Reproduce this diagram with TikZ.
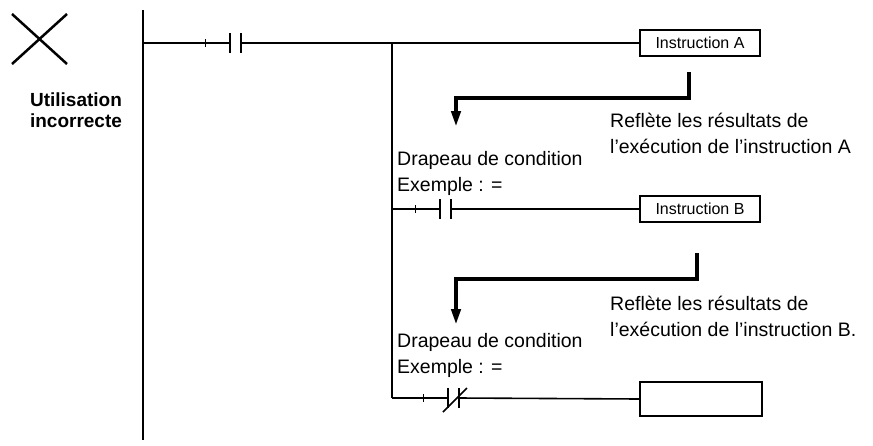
\documentclass[tikz,border=0pt]{standalone}
\usepackage{fontspec}
\defaultfontfeatures{}
\setmainfont{Liberation Sans}[Ligatures=ResetAll]
\usetikzlibrary{arrows.meta}
\newcommand{\ap}{'}
\begin{document}
\begin{tikzpicture}[x=1pt,y=-1pt,
  wire/.style={line width=1.6pt},
  box/.style={draw,line width=1.2pt,minimum width=120pt,minimum height=26pt,inner sep=0pt,font=\fontsize{16}{18}\selectfont},
  lbl/.style={anchor=west,inner sep=0pt,align=left,font=\fontsize{19.5}{26}\selectfont},
  flow/.style={line width=4pt,-{Triangle[length=16pt,width=9pt]}}]
\useasboundingbox (0,0) rectangle (873,445);
% cross
\draw[line width=2.5pt] (12,14) -- (67,64) (67,14) -- (12,64);
\node[font=\bfseries\fontsize{19}{21}\selectfont,align=center] (ui) at (76,110) {Utilisation\\incorrecte};
% rail
\coordinate (r0) at (143,10); \coordinate (r1) at (143,440);
\draw[line width=1.8pt] (r0) -- (r1);
% rung 1
\node[box] (A) at (700,43) {Instruction A};
\coordinate (s1) at (143,43); \coordinate (b1) at (392,43); \coordinate (b3) at (392,398);
\draw[wire] (s1) -- (230,43) (241,43) -- (A.west);
\draw[line width=0.8pt] (205,39) -- (205,47);
\draw[wire] (230,33) -- (230,53) (241,33) -- (241,53);
\draw[wire] (b1) -- (b3);
% flow 1
\coordinate (f1) at (689,72);
\draw[flow] (f1) -- (689,98) -- (456,98) -- (456,127);
\node[lbl] (t1) at (610,133) {Reflète les résultats de\\l\ap exécution de l\ap instruction A};
\node[lbl] (d1) at (397,173) {Drapeau de condition\\Exemple : =};
% rung 2
\node[box] (B) at (700,209) {Instruction B};
\coordinate (b2) at (392,209);
\draw[wire] (b2) -- (440,209) (451,209) -- (B.west);
\draw[line width=0.8pt] (415,205) -- (415,213);
\draw[wire] (440,199) -- (440,219) (451,199) -- (451,219);
% flow 2
\coordinate (f2) at (697,253);
\draw[flow] (f2) -- (697,279) -- (456,279) -- (456,325);
\node[lbl] (t2) at (610,316) {Reflète les résultats de\\l\ap exécution de l\ap instruction B.};
\node[lbl] (d2) at (397,355) {Drapeau de condition\\Exemple : =};
% rung 3
\node[box,minimum width=122pt,minimum height=34pt] (C) at (701,399) {};
\draw[wire] (b3) -- (448,398) (459,398) -- (C.west);
\draw[line width=0.8pt] (423,394) -- (423,402);
\draw[wire] (448,388) -- (448,408) (459,388) -- (459,408);
\draw[wire] (443,412) -- (467,388);
\end{tikzpicture}
\end{document}
